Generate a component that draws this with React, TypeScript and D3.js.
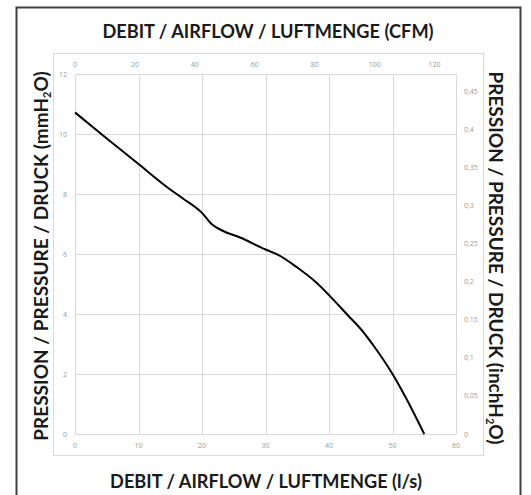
import * as d3 from 'd3';
import React, { useRef, useEffect } from 'react';

// airflow (l/s) vs pressure (mmH2O)
const flowLs = [0, 5, 10, 15, 17, 20, 21.5, 23, 26, 30, 32, 35, 38, 40, 43, 45, 47, 50, 52, 55];
const pressMm = [10.72, 9.85, 9.0, 8.15, 7.85, 7.37, 7.0, 6.8, 6.55, 6.15, 5.97, 5.55, 5.05, 4.63, 3.95, 3.5, 2.95, 2.0, 1.25, 0];

const bottomTicks = [0, 10, 20, 30, 40, 50, 60];
const topTicks = [0, 20, 40, 60, 80, 100, 120];
const leftTicks = [0, 2, 4, 6, 8, 10, 12];
const rightTicks = [0, 0.05, 0.1, 0.15, 0.2, 0.25, 0.3, 0.35, 0.4, 0.45];

const LS_TO_CFM = 2.11888;
const MM_TO_IN = 1 / 25.4;

const titleFont = "Lato, 'Open Sans', sans-serif";
const tickFont = "'Open Sans', Lato, sans-serif";

function App() {
    const ref = useRef<SVGSVGElement>(null);

    useEffect(() => {
        document.body.style.margin = '0';
        const svg = d3.select(ref.current);
        svg.selectAll('*').remove();
        draw();
    }, []);

    const draw = () => {
        const svg = d3.select(ref.current);
        const plot = { left: 75, right: 456, top: 74, bottom: 434 };

        const x = d3.scaleLinear().domain([0, 60]).range([plot.left, plot.right]);
        const xTop = d3.scaleLinear().domain([0, 60 * LS_TO_CFM]).range([plot.left, plot.right]);
        const y = d3.scaleLinear().domain([0, 12]).range([plot.bottom, plot.top]);
        const yRight = d3.scaleLinear().domain([0, 12 * MM_TO_IN]).range([plot.bottom, plot.top]);

        // outer frame
        svg.append('rect')
            .attr('x', 16.5).attr('y', 7.5)
            .attr('width', 504).attr('height', 500)
            .attr('fill', 'white')
            .attr('stroke', '#3f3f3f')
            .attr('stroke-width', 2);

        // chart area
        svg.append('rect')
            .attr('x', 53.5).attr('y', 53.5)
            .attr('width', 430).attr('height', 402)
            .attr('fill', 'white')
            .attr('stroke', '#d9d9d9')
            .attr('stroke-width', 1);

        // grid
        const grid = svg.append('g').attr('stroke', '#d9d9d9').attr('stroke-width', 1);
        grid.selectAll('.vg')
            .data(bottomTicks)
            .enter()
            .append('line')
            .attr('x1', d => Math.round(x(d)) + 0.5)
            .attr('x2', d => Math.round(x(d)) + 0.5)
            .attr('y1', plot.top)
            .attr('y2', plot.bottom);
        grid.selectAll('.hg')
            .data(leftTicks)
            .enter()
            .append('line')
            .attr('x1', plot.left)
            .attr('x2', plot.right)
            .attr('y1', d => Math.round(y(d)) + 0.5)
            .attr('y2', d => Math.round(y(d)) + 0.5);

        const tickText = (g, data, fx, fy, anchor, fmt) => {
            g.selectAll('text')
                .data(data)
                .enter()
                .append('text')
                .attr('x', fx)
                .attr('y', fy)
                .attr('text-anchor', anchor)
                .attr('dominant-baseline', 'central')
                .attr('font-family', tickFont)
                .attr('font-size', '7px')
                .attr('fill', '#999999')
                .text(fmt);
        };
        const comma = d3.format('.2~f');

        tickText(svg.append('g'), bottomTicks, d => x(d), 445, 'middle', d => d);
        tickText(svg.append('g'), topTicks, d => xTop(d), 64, 'middle', d => d);
        tickText(svg.append('g'), leftTicks, 67, d => y(d), 'end', d => d);
        tickText(svg.append('g'), rightTicks, 464, d => yRight(d), 'start', d => comma(d).replace('.', ','));

        // curve
        const line = d3.line<number>()
            .x((d, i) => x(flowLs[i]))
            .y(d => y(d))
            .curve(d3.curveMonotoneX);
        svg.append('path')
            .datum(pressMm)
            .attr('d', line)
            .attr('fill', 'none')
            .attr('stroke', 'black')
            .attr('stroke-width', 2);

        // titles
        const title = (tx, ty, rot, size) =>
            svg.append('text')
                .attr('transform', `translate(${tx},${ty}) rotate(${rot})`)
                .attr('text-anchor', 'middle')
                .attr('dominant-baseline', 'central')
                .attr('font-family', titleFont)
                .attr('font-weight', 'bold')
                .attr('font-size', size + 'px')
                .attr('fill', '#1a1a1a');

        title(268, 31, 0, 18.2).text('DEBIT / AIRFLOW / LUFTMENGE (CFM)');
        title(266, 481, 0, 18.2).text('DEBIT / AIRFLOW / LUFTMENGE (l/s)');

        const left = title(40, 256, -90, 19);
        left.append('tspan').text('PRESSION / PRESSURE / DRUCK (mmH');
        left.append('tspan').attr('font-size', '11px').attr('dy', 6).text('2');
        left.append('tspan').attr('dy', -6).text('O)');

        const right = title(497, 258, 90, 19);
        right.append('tspan').text('PRESSION / PRESSURE / DRUCK (inchH');
        right.append('tspan').attr('font-size', '11px').attr('dy', 6).text('2');
        right.append('tspan').attr('dy', -6).text('O)');
    };

    return (
        <svg ref={ref} width={531} height={495} style={{ display: 'block' }}></svg>
    );
}

export default App;
